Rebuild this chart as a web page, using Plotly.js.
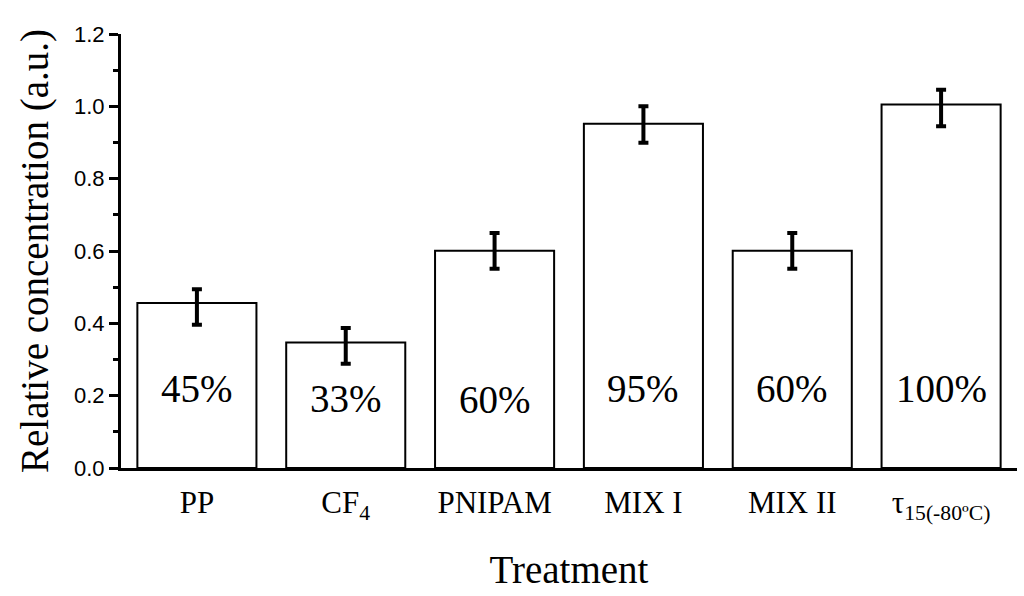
<!DOCTYPE html>
<html>
<head>
<meta charset="utf-8">
<script src="https://cdn.plot.ly/plotly-3.0.1.min.js"></script>
<style>html,body{margin:0;padding:0;background:#fff;}#chart{width:1024px;height:596px;}</style>
</head>
<body>
<div id="chart"></div>
<script>
const categories = ['PP', 'CF<sub>4</sub>', 'PNIPAM', 'MIX I', 'MIX II', 'τ<sub>15(-80ºC)</sub>'];
const values = [0.456, 0.347, 0.601, 0.952, 0.601, 1.005];
const errPlus = [0.038, 0.040, 0.049, 0.048, 0.049, 0.041];
const errMinus = [0.060, 0.059, 0.050, 0.053, 0.050, 0.060];
const pctLabels = ['45%', '33%', '60%', '95%', '60%', '100%'];

const labelHeights = [0.219, 0.193, 0.189, 0.219, 0.219, 0.219];
const serif = 'Liberation Serif, Times New Roman, serif';
const sans = 'Liberation Sans, Arial, sans-serif';

const trace = {
  type: 'bar',
  x: categories,
  y: values,
  marker: { color: '#ffffff', line: { color: '#000000', width: 2 } },
  error_y: {
    type: 'data', symmetric: false,
    array: errPlus, arrayminus: errMinus,
    color: '#000000', thickness: 4, width: 5
  },
  hoverinfo: 'x+y',
  showlegend: false
};

const annotations = categories.map((c, i) => ({
  x: c, y: labelHeights[i], xref: 'x', yref: 'y',
  text: pctLabels[i], showarrow: false,
  xanchor: 'center', yanchor: 'middle',
  font: { family: serif, size: 39, color: '#000' }
}));

const layout = {
  width: 1024, height: 596,
  margin: { l: 121, r: 7, t: 34, b: 128 },
  paper_bgcolor: '#ffffff', plot_bgcolor: '#ffffff',
  font: { family: serif, color: '#000' },
  bargap: 0.2,
  xaxis: {
    type: 'category',
    range: [-0.51, 5.51],
    showline: true, linecolor: '#000', linewidth: 3,
    ticks: '', showgrid: false, zeroline: false,
    ticklabelstandoff: 5,
    tickfont: { family: serif, size: 31, color: '#000' },
    title: { text: 'Treatment', font: { family: serif, size: 39, color: '#000' }, standoff: 32 }
  },
  yaxis: {
    range: [0, 1.2], dtick: 0.2, tick0: 0, tickformat: '.1f',
    showline: true, linecolor: '#000', linewidth: 3,
    ticks: 'outside', ticklen: 9, tickwidth: 3, tickcolor: '#000',
    minor: { dtick: 0.1, ticks: 'outside', ticklen: 5, tickwidth: 3, tickcolor: '#000', showgrid: false },
    showgrid: false, zeroline: false,
    tickfont: { family: sans, size: 22, color: '#000' },
    title: { text: 'Relative concentration (a.u.)', font: { family: serif, size: 39, color: '#000' }, standoff: 14 }
  },
  annotations: annotations
};

Plotly.newPlot('chart', [trace], layout, { staticPlot: true, displayModeBar: false });
</script>
</body>
</html>
